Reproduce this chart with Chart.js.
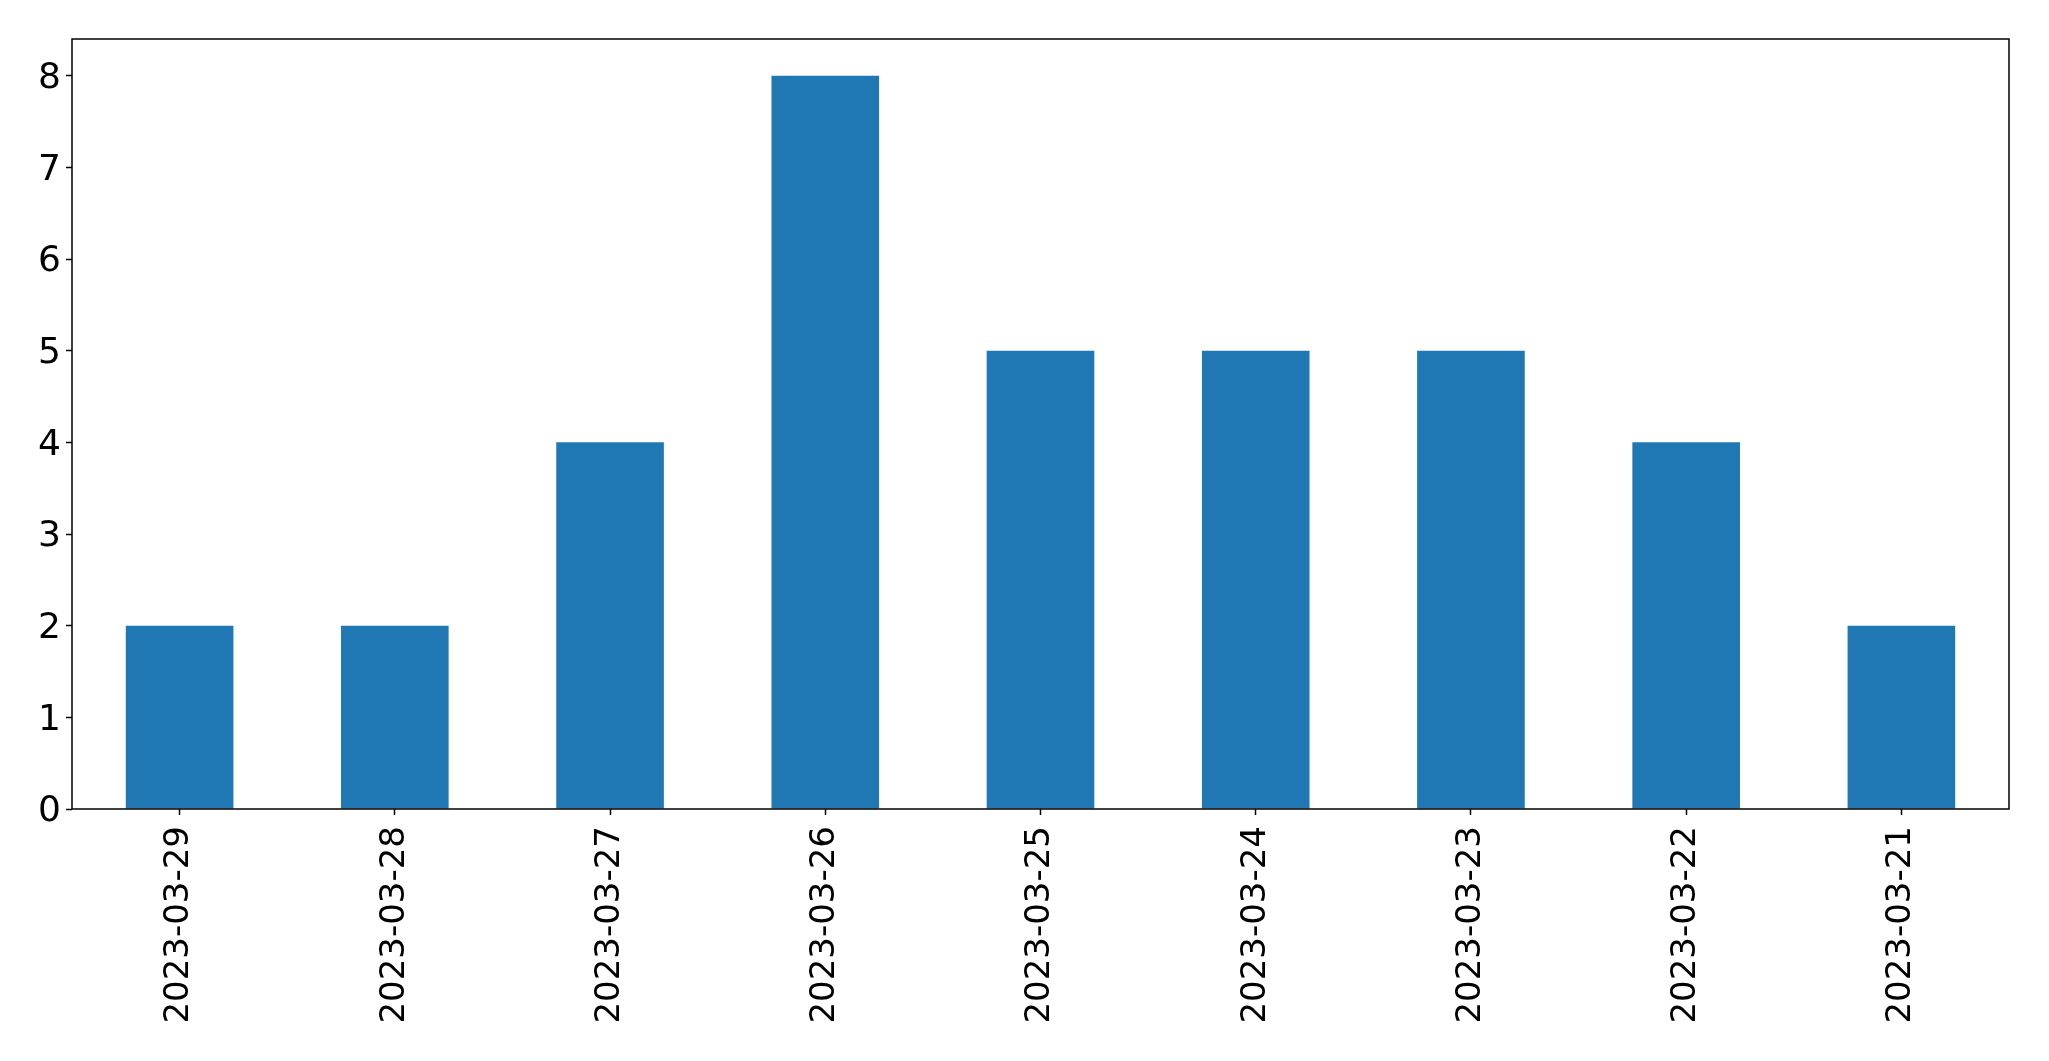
<!DOCTYPE html>
<html>
<head>
<meta charset="utf-8">
<script src="https://cdn.jsdelivr.net/npm/chart.js@4"></script>
<style>
    html, body { margin: 0; padding: 0; background: #fff; }
    #wrap { width: 2049px; height: 1061px; }
</style>
</head>
<body>
<div id="wrap"><canvas id="barChart" width="2049" height="1061"></canvas></div>
<script>
const labels = ['2023-03-29', '2023-03-28', '2023-03-27', '2023-03-26', '2023-03-25', '2023-03-24', '2023-03-23', '2023-03-22', '2023-03-21'];
const counts = [2, 2, 4, 8, 5, 5, 5, 4, 2];
const yTicks = [0, 1, 2, 3, 4, 5, 6, 7, 8];

// draws the box round the plot area, like matplotlib's spines
const frameBox = {
    id: 'frameBox',
    afterDraw(chart) {
        const a = chart.chartArea;
        const ctx = chart.ctx;
        ctx.save();
        ctx.strokeStyle = '#000';
        ctx.lineWidth = 1.5;
        ctx.strokeRect(a.left, a.top, a.right - a.left, a.bottom - a.top);
        ctx.restore();
    }
};

const ctx = document.getElementById('barChart').getContext('2d');
new Chart(ctx, {
    type: 'bar',
    data: {
        labels: labels,
        datasets: [{
            data: counts,
            backgroundColor: '#1f77b4',
            barPercentage: 0.5,
            categoryPercentage: 1.0
        }]
    },
    options: {
        responsive: false,
        animation: false,
        layout: { padding: { top: 39, right: 40, left: 0, bottom: 0 } },
        scales: {
            x: {
                offset: true,
                grid: { display: true, offset: false, drawOnChartArea: false, color: '#000', tickLength: 6, tickWidth: 1.5 },
                border: { display: false },
                ticks: {
                    color: '#000',
                    font: { family: 'DejaVu Sans', size: 34 },
                    minRotation: 90,
                    maxRotation: 90,
                    padding: 11,
                    autoSkip: false
                },
                afterFit(scale) { scale.height = 252; }
            },
            y: {
                min: 0,
                max: 8.4,
                grid: { display: true, drawOnChartArea: false, color: '#000', tickLength: 6, tickWidth: 1.5 },
                border: { display: false },
                ticks: {
                    color: '#000',
                    font: { family: 'DejaVu Sans', size: 36 },
                    stepSize: 1,
                    padding: 5,
                    labelOffset: 3
                },
                afterBuildTicks(scale) {
                    scale.ticks = yTicks.map(v => ({ value: v }));
                },
                afterFit(scale) { scale.width = 72; }
            }
        },
        plugins: {
            legend: { display: false },
            tooltip: { enabled: false }
        }
    },
    plugins: [frameBox]
});
</script>
</body>
</html>
